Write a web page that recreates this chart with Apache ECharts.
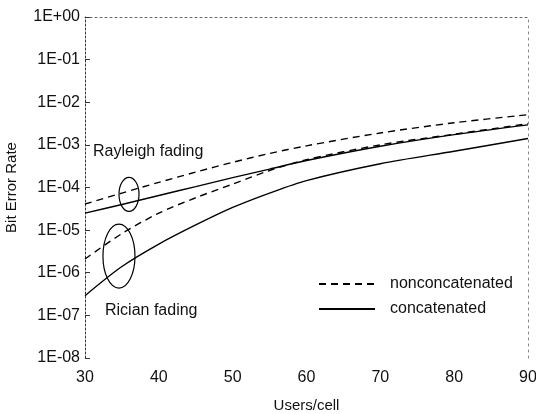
<!DOCTYPE html>
<html><head><meta charset="utf-8">
<script src="https://cdn.jsdelivr.net/npm/echarts@6/dist/echarts.min.js"></script>
<style>html,body{margin:0;padding:0;background:#fff}#c{width:536px;height:414px}</style>
</head><body><div id="c"></div>
<script>
// Users per cell (x)
const users = [30, 35, 40, 45, 50, 55, 60, 70, 80, 90];
// Bit error rates
const rayleighNonconcat = [4.1e-5, 7.4e-5, 1.32e-4, 2.3e-4, 3.9e-4, 6.3e-4, 9.5e-4, 1.9e-3, 3.3e-3, 5.1e-3];
const rayleighConcat    = [2.5e-5, 4.0e-5, 6.5e-5, 1.05e-4, 1.7e-4, 2.7e-4, 4.3e-4, 9.3e-4, 1.74e-3, 2.95e-3];
const ricianNonconcat   = [2.1e-6, 8.3e-6, 2.5e-5, 5.75e-5, 1.2e-4, 2.5e-4, 4.5e-4, 1.0e-3, 1.78e-3, 3.15e-3];
const ricianConcat      = [2.9e-7, 1.4e-6, 4.7e-6, 1.32e-5, 3.4e-5, 7.4e-5, 1.45e-4, 3.6e-4, 7.1e-4, 1.41e-3];
const yTickLabels = ['1E-08','1E-07','1E-06','1E-05','1E-04','1E-03','1E-02','1E-01','1E+00'];
// annotation anchors in data units
const rayleighMark = [35.96, Math.pow(10, -4.16)];
const ricianMark = [34.6, Math.pow(10, -5.61)];

const FONT = "'Liberation Sans', Arial, sans-serif";
const pairs = arr => users.map((u, i) => [u, arr[i]]);
const chart = echarts.init(document.getElementById('c'), null, {renderer: 'canvas'});

function fmtY(v) {
  const e = Math.round(Math.log10(v));
  return yTickLabels[e + 8] || '';
}

const dashed = {color: '#000', width: 1.4, type: [7, 5]};
const solid = {color: '#000', width: 1.4, type: 'solid'};

chart.setOption({
  animation: false,
  backgroundColor: '#fff',
  grid: {left: 85, right: 8, top: 17, bottom: 56, containLabel: false, outerBoundsMode: 'none'},
  legend: {
    orient: 'vertical', left: 313, top: 271, itemWidth: 56, itemHeight: 14, itemGap: 9,
    itemStyle: {opacity: 0},
    textStyle: {fontFamily: FONT, fontSize: 16, color: '#111', padding: [0, 0, 0, 10]},
    data: ['nonconcatenated', 'concatenated']
  },
  xAxis: [{
    type: 'value', min: 30, max: 90, interval: 10,
    name: 'Users/cell', nameLocation: 'middle', nameGap: 40,
    nameTextStyle: {fontFamily: FONT, fontSize: 15, color: '#111'},
    axisLine: {show: false}, axisTick: {show: false}, splitLine: {show: false},
    axisLabel: {fontFamily: FONT, fontSize: 16, color: '#111', margin: 12}
  }, {
    type: 'value', position: 'top', min: 30, max: 90,
    axisLine: {show: true, lineStyle: {color: '#666', width: 1, type: [2, 3]}},
    axisTick: {show: false}, axisLabel: {show: false}, splitLine: {show: false}
  }],
  yAxis: [{
    type: 'log', logBase: 10, min: 1e-8, max: 1, splitNumber: 8,
    name: 'Bit Error Rate', nameLocation: 'middle', nameGap: 66,
    nameTextStyle: {fontFamily: FONT, fontSize: 15, color: '#111'},
    axisLine: {show: true, lineStyle: {color: '#333', width: 1, type: [2, 2]}},
    axisTick: {show: true, inside: true, length: 5, lineStyle: {color: '#333'}},
    splitLine: {show: false},
    axisLabel: {fontFamily: FONT, fontSize: 16, color: '#111', margin: 5, formatter: fmtY}
  }, {
    type: 'log', logBase: 10, min: 1e-8, max: 1, position: 'right',
    axisLine: {show: true, lineStyle: {color: '#888', width: 1, type: [2, 4]}},
    axisTick: {show: false}, axisLabel: {show: false}, splitLine: {show: false}
  }],
  series: [
    {name: 'nonconcatenated', type: 'line', smooth: 0.3, symbol: 'none', lineStyle: dashed, itemStyle: {color: '#000'}, data: pairs(rayleighNonconcat)},
    {name: 'concatenated', type: 'line', smooth: 0.3, symbol: 'none', lineStyle: solid, itemStyle: {color: '#000'}, data: pairs(rayleighConcat)},
    {name: 'nonconcatenated', type: 'line', smooth: 0.3, symbol: 'none', lineStyle: dashed, itemStyle: {color: '#000'}, data: pairs(ricianNonconcat)},
    {name: 'concatenated', type: 'line', smooth: 0.3, symbol: 'none', lineStyle: solid, itemStyle: {color: '#000'}, data: pairs(ricianConcat)}
  ]
});

const p1 = chart.convertToPixel({gridIndex: 0}, rayleighMark);
const p2 = chart.convertToPixel({gridIndex: 0}, ricianMark);
chart.setOption({
  graphic: [
    {type: 'ellipse', shape: {cx: p1[0], cy: p1[1], rx: 10, ry: 17}, style: {fill: 'none', stroke: '#000', lineWidth: 1.2}},
    {type: 'ellipse', shape: {cx: p2[0], cy: p2[1], rx: 16, ry: 32}, style: {fill: 'none', stroke: '#000', lineWidth: 1.2}},
    {type: 'text', left: 93, top: 144, style: {text: 'Rayleigh fading', font: '16px ' + FONT, fill: '#111'}},
    {type: 'text', left: 105, top: 303, style: {text: 'Rician fading', font: '16px ' + FONT, fill: '#111'}}
  ]
});
</script>
</body></html>
